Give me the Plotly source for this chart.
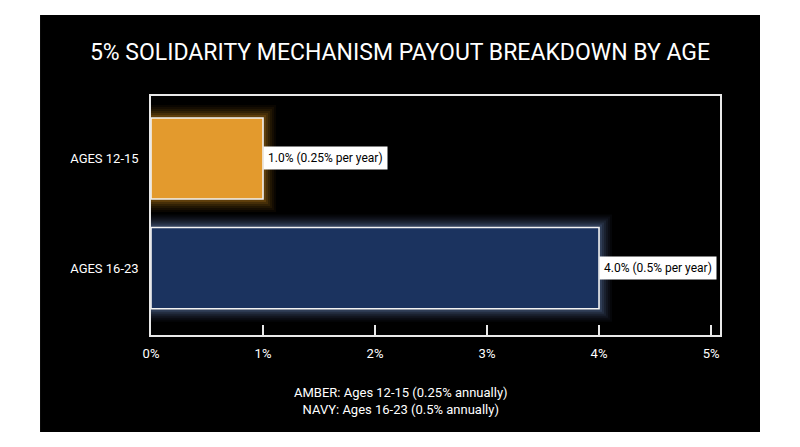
import plotly.graph_objects as go

# data
ages = ["AGES 12-15", "AGES 16-23"]
payout = [1.0, 4.0]
per_year = ["0.25%", "0.5%"]
bar_colors = ["#E39A2D", "#1B335F"]
glow_colors = ["rgba(245,165,35,{a})", "rgba(130,165,230,{a})"]
x_ticks = [0, 1, 2, 3, 4, 5]
x_tick_labels = ["0%", "1%", "2%", "3%", "4%", "5%"]
note_lines = ["AMBER: Ages 12-15 (0.25% annually)", "NAVY: Ages 16-23 (0.5% annually)"]

fig = go.Figure()

# soft glow around each bar, drawn as wide faded outlines
for i in range(len(ages)):
    for lw, a in [(26, 0.04), (22, 0.05), (18, 0.06), (14, 0.08), (10, 0.1), (6, 0.14)]:
        fig.add_trace(go.Bar(
            x=[payout[i]], y=[ages[i]], orientation="h", width=0.74,
            marker=dict(color="rgba(0,0,0,0)",
                        line=dict(color=glow_colors[i].format(a=a), width=lw)),
            hoverinfo="skip", showlegend=False,
        ))

fig.add_trace(go.Bar(
    x=payout, y=ages, orientation="h", width=0.74,
    marker=dict(color=bar_colors, line=dict(color="#f2f2f2", width=1.6)),
    showlegend=False,
))

annotations = []
for i in range(len(ages)):
    annotations.append(dict(
        x=payout[i], y=ages[i], xref="x", yref="y",
        text=f"{payout[i]:.1f}% ({per_year[i]} per year)",
        showarrow=False, xanchor="left", yanchor="middle",
        bgcolor="white", borderpad=4,
        font=dict(family="Roboto", size=12, color="black"),
    ))
annotations.append(dict(
    x=0.44, y=-0.2, xref="paper", yref="paper",
    text="<br>".join(note_lines), showarrow=False, align="center",
    xanchor="center", yanchor="top",
    font=dict(family="Roboto", size=13, color="white"),
))

fig.update_layout(
    width=800, height=447,
    margin=dict(l=151, r=80, t=96, b=112),
    paper_bgcolor="white",
    plot_bgcolor="black",
    barmode="overlay",
    title=dict(text="5% SOLIDARITY MECHANISM PAYOUT BREAKDOWN BY AGE",
               x=0.5, xanchor="center", y=0.883, yanchor="middle",
               font=dict(family="Roboto", size=23, color="white")),
    font=dict(family="Roboto", size=13, color="white"),
    shapes=[dict(type="rect", xref="paper", yref="paper", layer="below",
                 x0=-0.195, x1=1.0703, y0=-0.406, y1=1.339,
                 fillcolor="black", line=dict(width=0))],
    annotations=annotations,
    xaxis=dict(range=[0, 5.08], tickvals=x_ticks, ticktext=x_tick_labels,
               showgrid=False, zeroline=False, showline=True, mirror=True,
               linecolor="#e8e8e8", linewidth=1.5,
               ticks="inside", ticklen=10, tickwidth=1.5, tickcolor="#e8e8e8",
               ticklabelstandoff=6,
               tickfont=dict(family="Roboto", size=13, color="white")),
    yaxis=dict(autorange=False, range=[1.61, -0.57], showgrid=False,
               zeroline=False, showline=True, mirror=True,
               linecolor="#e8e8e8", linewidth=1.5, ticks="",
               ticklabelstandoff=8,
               tickfont=dict(family="Roboto", size=13, color="white")),
)

fig.write_html("out.html", config={"displayModeBar": False},
               post_script="document.body.style.margin='0';")
